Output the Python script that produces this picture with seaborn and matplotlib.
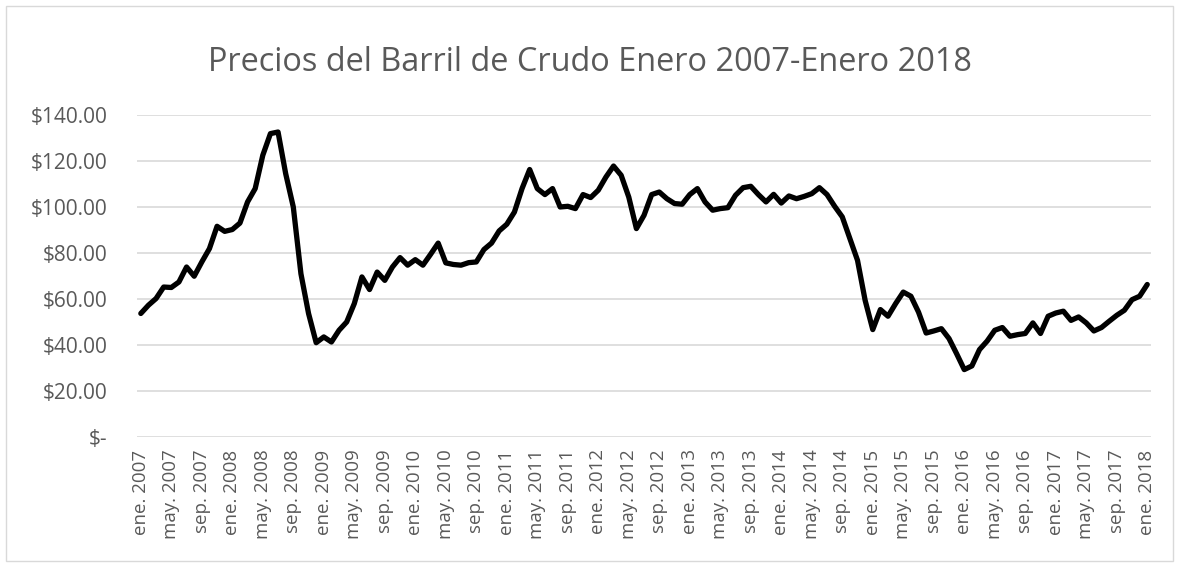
import matplotlib
matplotlib.use("Agg")
import matplotlib.pyplot as plt
import seaborn as sns
import pandas as pd
from matplotlib.patches import Rectangle

# precio mensual del barril (USD), ene. 2007 - ene. 2018
precios = [
    53.7, 57.3, 60.2, 65.2, 65.0, 67.4, 73.9, 69.9, 76.1, 81.9, 91.6, 89.4,
    90.2, 93.0, 102.2, 108.0, 122.5, 131.9, 132.6, 114.5, 100.0, 71.0, 53.7, 41.0,
    43.5, 41.3, 46.4, 50.0, 58.0, 69.6, 64.1, 71.7, 68.1, 73.9, 78.0, 74.7,
    77.1, 74.7, 79.4, 84.3, 75.7, 75.0, 74.7, 75.8, 76.1, 81.5, 84.3, 89.6,
    92.5, 97.8, 108.0, 116.3, 108.0, 105.4, 108.0, 100.0, 100.3, 99.3, 105.4, 104.1,
    107.3, 113.0, 117.8, 113.8, 104.3, 90.6, 96.4, 105.4, 106.5, 103.6, 101.5, 101.2,
    105.4, 108.0, 102.2, 98.6, 99.3, 99.7, 105.1, 108.4, 109.0, 105.4, 102.2, 105.5,
    101.7, 104.8, 103.6, 104.6, 105.8, 108.4, 105.4, 100.3, 95.7, 86.3, 76.8, 59.4,
    46.7, 55.4, 52.5, 58.0, 63.0, 61.2, 54.3, 45.2, 46.1, 47.1, 42.8, 36.2,
    29.3, 30.9, 38.0, 41.7, 46.4, 47.6, 43.8, 44.5, 45.0, 49.6, 45.0, 52.5,
    53.9, 54.7, 50.7, 52.2, 49.6, 46.1, 47.6, 50.3, 52.9, 55.1, 59.7, 61.2,
    66.3,
]
meses = ["ene.", "feb.", "mar.", "abr.", "may.", "jun.",
         "jul.", "ago.", "sep.", "oct.", "nov.", "dic."]
anio_inicio = 2007
etiquetas = [f"{meses[i % 12]} {anio_inicio + i // 12}" for i in range(len(precios))]
y_ticks = [0, 20, 40, 60, 80, 100, 120, 140]

df = pd.DataFrame({"mes": range(len(precios)), "precio": precios})

gris = "#595959"
sns.set_theme(style="white")
plt.rcParams["font.family"] = ["Open Sans", "DejaVu Sans"]

fig = plt.figure(figsize=(11.79, 5.67), dpi=100)
ax = fig.add_axes([0.1162, 0.2293, 0.8601, 0.5679])

sns.lineplot(data=df, x="mes", y="precio", ax=ax, color="black",
             linewidth=3.8, solid_joinstyle="round", solid_capstyle="round")

ax.set_xlim(-0.5, len(precios) - 0.5)
ax.set_ylim(0, 140)
ax.set_yticks(y_ticks)
ax.set_yticklabels(["$-" if v == 0 else f"${v:,.2f}" for v in y_ticks])
ax.set_xticks(df["mes"][::4])
ax.set_xticklabels(etiquetas[::4], rotation=90)
ax.tick_params(axis="both", length=0, colors=gris)
ax.tick_params(axis="x", pad=9, labelsize=13.5)
ax.tick_params(axis="y", pad=21, labelsize=15)

for y in y_ticks:
    ax.axhline(y, color="#d9d9d9", linewidth=1.2, zorder=0)
for s in ax.spines.values():
    s.set_visible(False)
ax.set_xlabel("")
ax.set_ylabel("")

fig.text(0.5, 0.89, "Precios del Barril de Crudo Enero 2007-Enero 2018",
         ha="center", va="center", fontsize=23.4, color=gris)

fig.patches.append(Rectangle((0.005, 0.01), 0.99, 0.98, transform=fig.transFigure,
                             fill=False, edgecolor="#d9d9d9", linewidth=1))

fig.savefig("out.png", dpi=100)
